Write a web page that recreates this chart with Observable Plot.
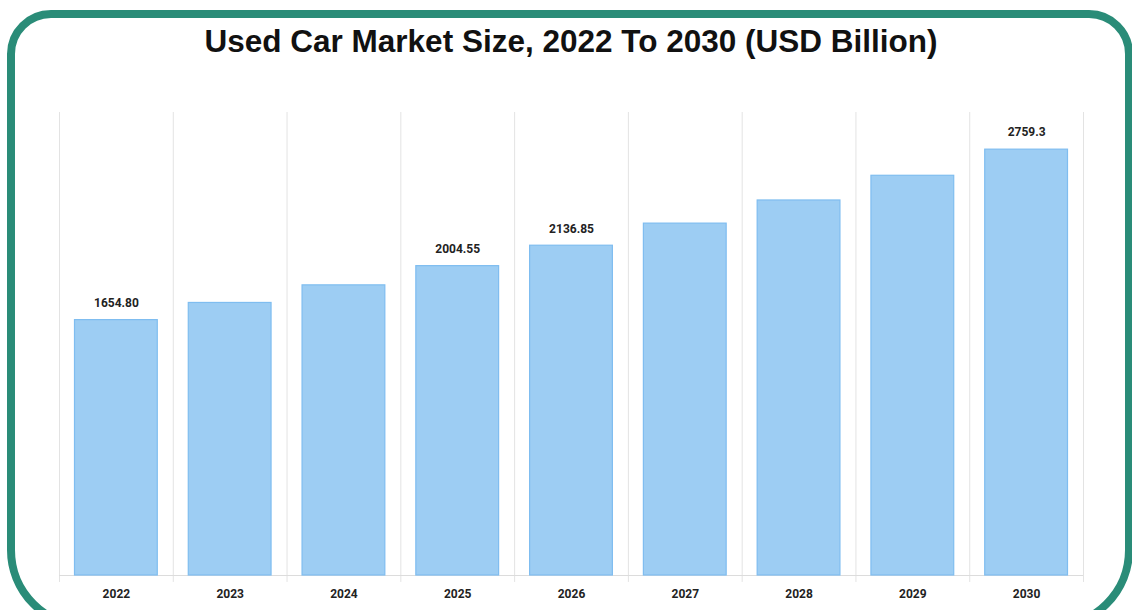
<!DOCTYPE html>
<html>
<head>
<meta charset="utf-8">
<script src="https://cdn.jsdelivr.net/npm/d3@7"></script>
<script src="https://cdn.jsdelivr.net/npm/@observablehq/plot@0.6"></script>
<style>
  html, body { margin: 0; padding: 0; background: #fff; }
  #wrap { position: relative; width: 1132px; height: 610px; overflow: hidden; background: #fff; }
  #frame { position: absolute; left: 7px; top: 10px; width: 1126px; height: 620px; box-sizing: border-box;
           border: 8px solid #2a8c78; border-radius: 44px 44px 80px 80px; }
  #title { position: absolute; left: 5px; top: 26px; width: 1132px; text-align: center; line-height: 1;
           font-family: "Liberation Sans", Arial, sans-serif; font-weight: bold; font-size: 31.5px; color: #111; }
  #chart { position: absolute; left: 0; top: 0; }
</style>
</head>
<body>
<div id="wrap">
  <div id="chart"></div>
  <div id="frame"></div>
  <div id="title">Used Car Market Size, 2022 To 2030 (USD Billion)</div>
</div>
<script>
const years = [2022, 2023, 2024, 2025, 2026, 2027, 2028, 2029, 2030];
const values = [1654.80, 1766, 1880, 2004.55, 2136.85, 2280, 2430, 2590, 2759.3];
const labels = ["1654.80", "", "", "2004.55", "2136.85", "", "", "", "2759.3"];
const yMax = 3000;

const data = years.map((y, i) => ({year: y, value: values[i], label: labels[i]}));
const edges = [...years.map(y => y - 0.5), years[years.length - 1] + 0.5];

const chart = Plot.plot({
  width: 1132,
  height: 610,
  marginLeft: 59,
  marginRight: 49,
  marginTop: 112,
  marginBottom: 35,
  x: {domain: [years[0] - 0.5, years[years.length - 1] + 0.5]},
  y: {domain: [0, yMax]},
  style: {fontFamily: "Roboto, 'Liberation Sans', Arial, sans-serif", background: "transparent"},
  marks: [
    Plot.ruleX(edges, {x: d => d, y1: yMax, y2: -45, stroke: "#e3e3e3", strokeWidth: 1}),
    Plot.ruleY([0], {stroke: "#dcdcdc", strokeWidth: 1}),
    Plot.rectY(data, {x1: d => d.year - 0.5, x2: d => d.year + 0.5, y: "value",
      insetLeft: 15.5, insetRight: 15.5, fill: "#9dcdf3", stroke: "#7fbdf0", strokeWidth: 1.2}),
    Plot.text(data.filter(d => d.label), {x: "year", y: "value", text: "label", dy: -17,
      fontSize: 12, fontWeight: "bold", fill: "#222"}),
    Plot.axisX({ticks: years, tickFormat: d => String(d), tickSize: 0, tickPadding: 14,
      fontSize: 12, fontWeight: "bold", fill: "#222", label: null}),
    Plot.axisY({ticks: [], label: null, tickSize: 0})
  ]
});
document.getElementById("chart").appendChild(chart);
</script>
</body>
</html>
